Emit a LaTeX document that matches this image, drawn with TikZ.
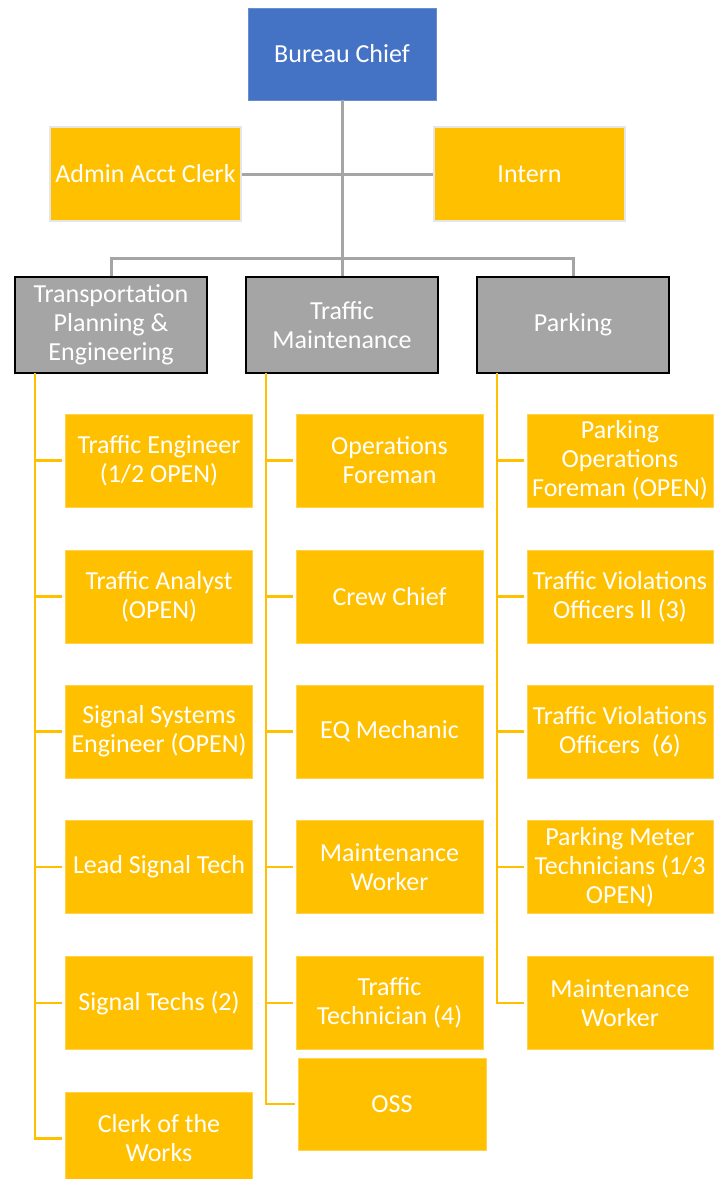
\documentclass[tikz,border=0pt]{standalone}
\usepackage{fontspec}
\setmainfont{Carlito}
\definecolor{cblue}{HTML}{4472C4}
\definecolor{cgold}{HTML}{FFC000}
\definecolor{cgray}{HTML}{A5A5A5}
\definecolor{clight}{HTML}{E7E6E6}
\begin{document}
\begin{tikzpicture}[x=1pt,y=-1pt,
  base/.style={rectangle,inner sep=0pt,align=center,text=white,
    font=\fontsize{26}{29}\selectfont},
  ybox/.style={base,fill=cgold,draw=cgold!70!white,line width=0.8pt,
    minimum width=187pt,minimum height=93pt},
  sbox/.style={base,fill=cgold,draw=clight,line width=2.5pt,
    minimum width=191pt,minimum height=94pt},
  gbox/.style={base,fill=cgray,draw=black,line width=2pt,
    minimum width=192pt,minimum height=96pt},
  bbox/.style={base,fill=cblue,draw=cblue!80!white,line width=0.8pt,
    minimum width=188pt,minimum height=92pt},
  gline/.style={draw=cgray,line width=3pt},
  yline/.style={draw=cgold,line width=2.6pt}]
\useasboundingbox (0,0) rectangle (713,1179);

% connectors (behind)
\coordinate (j) at (342,258);
\coordinate (lv) at (35,373);
\coordinate (mv) at (266,373);
\coordinate (rv) at (497,373);

\node[bbox] (bc) at (342,54) {Bureau Chief};
\node[sbox] (admin) at (145.5,174) {Admin Acct Clerk};
\node[sbox] (intern) at (529.5,174) {Intern};

\node[gbox] (tpe) at (111,325) {Transportation\\Planning \&\\Engineering};
\node[gbox] (tm) at (342,325) {Traffic\\Maintenance};
\node[gbox] (park) at (573,325) {Parking};

% left column
\node[ybox] (l1) at (159,460.5) {Traffic Engineer\\(1/2 OPEN)};
\node[ybox] (l2) at (159,596.5) {Traffic Analyst\\(OPEN)};
\node[ybox] (l3) at (159,731.5) {Signal Systems\\Engineer (OPEN)};
\node[ybox] (l4) at (159,867) {Lead Signal Tech};
\node[ybox] (l5) at (159,1003) {Signal Techs (2)};
\node[ybox] (l6) at (159,1138.5) {Clerk of the\\Works};

% middle column
\node[ybox] (m1) at (389.5,460.5) {Operations\\Foreman};
\node[ybox] (m2) at (389.5,596.5) {Crew Chief};
\node[ybox] (m3) at (389.5,731.5) {EQ Mechanic};
\node[ybox] (m4) at (389.5,867) {Maintenance\\Worker};
\node[ybox] (m5) at (389.5,1003) {Traffic\\Technician (4)};
\node[ybox,minimum width=188pt,minimum height=92pt] (m6) at (392,1104) {OSS};

% right column
\node[ybox,minimum width=186pt] (r1) at (620,460.5) {Parking\\Operations\\Foreman (OPEN)};
\node[ybox,minimum width=186pt] (r2) at (620,596.5) {Traffic Violations\\Officers ll (3)};
\node[ybox,minimum width=186pt] (r3) at (620,731.5) {Traffic Violations\\Officers~~(6)};
\node[ybox,minimum width=186pt] (r4) at (620,867) {Parking Meter\\Technicians (1/3\\OPEN)};
\node[ybox,minimum width=186pt] (r5) at (620,1003) {Maintenance\\Worker};

% gray connectors
\draw[gline] (bc.south) -- (tm.north);
\draw[gline] (admin.east) -- (intern.west);
\draw[gline] (tpe.north) |- (j) -| (park.north);

% yellow connectors
\foreach \c in {l1,l2,l3,l4,l5,l6}
  \draw[yline] (lv) |- ([xshift=-3pt]\c.west);
\foreach \c in {m1,m2,m3,m4,m5,m6}
  \draw[yline] (mv) |- ([xshift=-3pt]\c.west);
\foreach \c in {r1,r2,r3,r4,r5}
  \draw[yline] (rv) |- ([xshift=-3pt]\c.west);
\end{tikzpicture}
\end{document}
